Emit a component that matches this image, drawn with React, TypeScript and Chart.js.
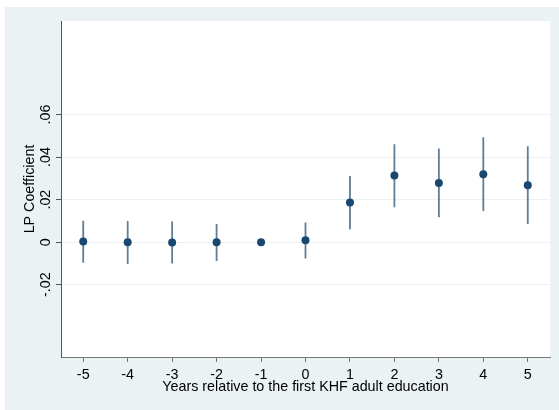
import React, { useEffect, useRef } from "react";
import { Chart, registerables } from "chart.js";

Chart.register(...registerables);

const years = [-5, -4, -3, -2, -1, 0, 1, 2, 3, 4, 5];
const coef = [0.0003, 0.0, -0.0002, 0.0, 0.0, 0.0009, 0.0186, 0.0313, 0.0278, 0.0319, 0.0268];
const ciLow = [-0.0097, -0.0103, -0.01, -0.0088, null, -0.0077, 0.0061, 0.0164, 0.0117, 0.0147, 0.0086];
const ciHigh = [0.0101, 0.01, 0.0097, 0.0086, null, 0.0092, 0.0311, 0.046, 0.044, 0.0493, 0.0451];
const yTickValues = [-0.02, 0, 0.02, 0.04, 0.06];
const yTickLabels = ["-.02", "0", ".02", ".04", ".06"];
const xTickValues = years;
const xTitle = "Years relative to the first KHF adult education";
const yTitle = "LP Coefficient";

const FONT = "'Liberation Sans', Arial, sans-serif";
const FS = 14.3;
const BG = "#eaf2f3";
const AXIS = "#555555";

export default function App() {
  const ref = useRef<HTMLCanvasElement | null>(null);

  useEffect(() => {
    document.body.style.margin = "0";
    const canvas = ref.current;
    if (!canvas) return;

    const ciData: any[] = [];
    years.forEach((x, i) => {
      if (ciLow[i] !== null && ciHigh[i] !== null) {
        ciData.push({ x, y: ciLow[i] });
        ciData.push({ x, y: ciHigh[i] });
        ciData.push({ x, y: null });
      }
    });

    const bgPlugin = {
      id: "bg",
      beforeDraw(chart: any) {
        const { ctx, chartArea } = chart;
        ctx.save();
        ctx.fillStyle = "#ffffff";
        ctx.fillRect(0, 0, chart.width, chart.height);
        ctx.fillStyle = BG;
        ctx.fillRect(5, 7, chart.width - 5, chart.height - 7);
        ctx.fillStyle = "#ffffff";
        ctx.fillRect(chartArea.left, chartArea.top, chartArea.right - chartArea.left, chartArea.bottom - chartArea.top);
        ctx.restore();
      },
      afterDraw(chart: any) {
        const { ctx } = chart;
        const ys = chart.scales.y;
        ctx.save();
        ctx.fillStyle = "#000000";
        ctx.font = `${FS}px ${FONT}`;
        ctx.textAlign = "center";
        ctx.textBaseline = "middle";
        yTickValues.forEach((v, i) => {
          const py = ys.getPixelForValue(v);
          ctx.save();
          ctx.translate(46, py);
          ctx.rotate(-Math.PI / 2);
          ctx.fillText(yTickLabels[i], 0, 0);
          ctx.restore();
        });
        ctx.restore();
      },
    };

    const chart = new Chart(canvas, {
      type: "scatter",
      data: {
        datasets: [
          {
            type: "scatter",
            data: years.map((x, i) => ({ x, y: coef[i] })),
            backgroundColor: "#1a476f",
            borderWidth: 0,
            pointRadius: 4,
            pointHoverRadius: 4,
          },
          {
            type: "line",
            data: ciData,
            borderColor: "rgba(26,71,111,0.7)",
            borderWidth: 1.8,
            pointRadius: 0,
            spanGaps: false,
            fill: false,
          } as any,
        ],
      },
      options: {
        animation: false,
        responsive: false,
        events: [],
        layout: { padding: { left: 0, top: 21, right: 9, bottom: 8 } },
        plugins: { legend: { display: false }, tooltip: { enabled: false } },
        scales: {
          x: {
            type: "linear",
            min: -5.5,
            max: 5.5,
            afterBuildTicks: (s: any) => {
              s.ticks = xTickValues.map((v) => ({ value: v }));
            },
            afterFit: (s: any) => {
              s.height = 45;
            },
            grid: {
              drawOnChartArea: false,
              drawTicks: true,
              tickLength: 5,
              tickColor: "#777777",
            },
            border: { display: true, color: "#777777", width: 1 },
            ticks: {
              color: "#000000",
              font: { family: FONT, size: FS },
              padding: 4,
              maxRotation: 0,
              autoSkip: false,
              callback: (v: any) => String(v),
            },
            title: {
              display: true,
              text: xTitle,
              color: "#000000",
              font: { family: FONT, size: FS },
              padding: { top: 0, bottom: 6.4 },
            },
          },
          y: {
            type: "linear",
            min: -0.054,
            max: 0.104,
            afterBuildTicks: (s: any) => {
              s.ticks = yTickValues.map((v) => ({ value: v }));
            },
            afterFit: (s: any) => {
              s.width = 61;
            },
            grid: {
              drawOnChartArea: true,
              color: BG,
              lineWidth: 1,
              drawTicks: true,
              tickLength: 5,
              tickColor: AXIS,
            },
            border: { display: true, color: AXIS, width: 1 },
            ticks: { display: false },
            title: {
              display: true,
              text: yTitle,
              color: "#000000",
              font: { family: FONT, size: FS },
              padding: { top: 21.5, bottom: 0 },
            },
          },
        },
      },
      plugins: [bgPlugin],
    } as any);

    return () => {
      chart.destroy();
    };
  }, []);

  return <canvas ref={ref} width={559} height={410} style={{ display: "block" }} />;
}
